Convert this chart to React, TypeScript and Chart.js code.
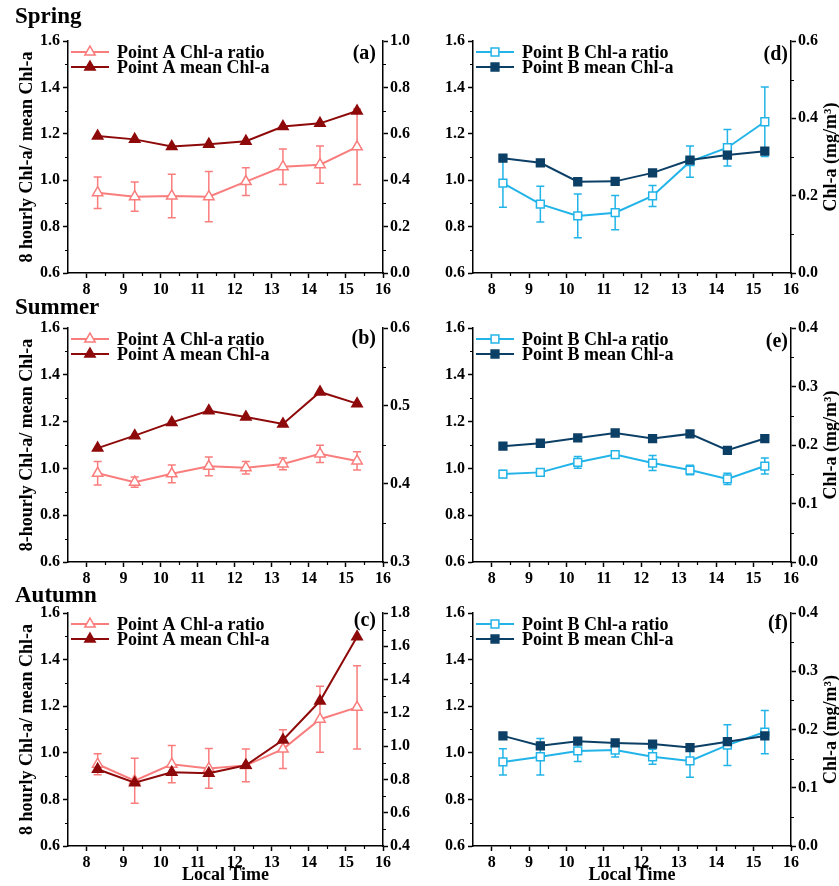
import React, { useEffect, useRef } from 'react';
import { Chart, registerables } from 'chart.js';

Chart.register(...registerables);

const FONT = '"Liberation Serif", "Times New Roman", serif';

// ---- shared axes ----
const TIME = [8.3, 9.3, 10.3, 11.3, 12.3, 13.3, 14.3, 15.3];
const X_TICKS = [8, 9, 10, 11, 12, 13, 14, 15, 16];
const LEFT_TICKS = [0.6, 0.8, 1.0, 1.2, 1.4, 1.6];

// ---- Spring, Point A (a) ----
const SPRING_A_RATIO = [0.946, 0.929, 0.932, 0.929, 0.994, 1.058, 1.067, 1.144];
const SPRING_A_ERR = [0.068, 0.063, 0.094, 0.108, 0.06, 0.076, 0.08, 0.163];
const SPRING_A_MEAN = [0.59, 0.576, 0.545, 0.555, 0.568, 0.631, 0.645, 0.698];
const SPRING_A_RIGHT_TICKS = [0.0, 0.2, 0.4, 0.6, 0.8, 1.0];

// ---- Summer, Point A (b) ----
const SUMMER_A_RATIO = [0.979, 0.941, 0.977, 1.009, 1.003, 1.019, 1.062, 1.032];
const SUMMER_A_ERR = [0.05, 0.022, 0.038, 0.04, 0.027, 0.025, 0.037, 0.039];
const SUMMER_A_MEAN = [0.446, 0.462, 0.479, 0.494, 0.486, 0.477, 0.518, 0.503];
const SUMMER_A_RIGHT_TICKS = [0.3, 0.4, 0.5, 0.6];

// ---- Autumn, Point A (c) ----
const AUTUMN_A_RATIO = [0.951, 0.88, 0.951, 0.933, 0.946, 1.016, 1.144, 1.195];
const AUTUMN_A_ERR = [0.045, 0.097, 0.08, 0.085, 0.07, 0.083, 0.142, 0.179];
const AUTUMN_A_MEAN = [0.861, 0.78, 0.843, 0.837, 0.885, 1.037, 1.271, 1.658];
const AUTUMN_A_RIGHT_TICKS = [0.4, 0.6, 0.8, 1.0, 1.2, 1.4, 1.6, 1.8];

// ---- Spring, Point B (d) ----
const SPRING_B_RATIO = [0.987, 0.897, 0.846, 0.86, 0.932, 1.08, 1.14, 1.252];
const SPRING_B_ERR = [0.104, 0.077, 0.094, 0.074, 0.045, 0.067, 0.079, 0.15];
const SPRING_B_MEAN = [0.297, 0.285, 0.236, 0.237, 0.259, 0.292, 0.305, 0.315];
const SPRING_B_RIGHT_TICKS = [0.0, 0.2, 0.4, 0.6];

// ---- Summer, Point B (e) ----
const SUMMER_B_RATIO = [0.976, 0.983, 1.026, 1.059, 1.023, 0.993, 0.955, 1.01];
const SUMMER_B_ERR = [0.015, 0.015, 0.025, 0.015, 0.032, 0.02, 0.024, 0.034];
const SUMMER_B_MEAN = [0.198, 0.203, 0.212, 0.2205, 0.211, 0.219, 0.191, 0.211];
const SUMMER_B_RIGHT_TICKS = [0.0, 0.1, 0.2, 0.3, 0.4];

// ---- Autumn, Point B (f) ----
const AUTUMN_B_RATIO = [0.961, 0.983, 1.008, 1.012, 0.983, 0.965, 1.033, 1.089];
const AUTUMN_B_ERR = [0.056, 0.078, 0.045, 0.03, 0.032, 0.07, 0.087, 0.093];
const AUTUMN_B_MEAN = [0.189, 0.172, 0.18, 0.177, 0.175, 0.169, 0.179, 0.189];
const AUTUMN_B_RIGHT_TICKS = [0.0, 0.1, 0.2, 0.3, 0.4];

const A_RATIO_COLOR = '#FA7D7D';
const A_MEAN_COLOR = '#8E0A0A';
const B_RATIO_COLOR = '#22B4E8';
const B_MEAN_COLOR = '#0C3F66';

const SEASONS = ['Spring', 'Summer', 'Autumn'];

type PanelCfg = {
  key: string;
  left: number; top: number; width: number; height: number;
  padTop: number; leftW: number; rightW: number; bottomH: number;
  ratio: number[]; err: number[]; mean: number[];
  rightTicks: number[];
  ratioColor: string; meanColor: string; marker: 'triangle' | 'rect';
  ratioLabel: string; meanLabel: string;
  letter: string; letterDx: number; letterDy: number;
  leftTitle?: string; rightTitle?: string; xTitle?: string;
};

const COLS = [
  { left: 0, width: 420, leftW: 68, rightW: 37 },
  { left: 420, width: 419, leftW: 53, rightW: 48 },
];
const ROWS = [
  { top: 0, height: 300, padTop: 41, bottomH: 27 },
  { top: 290, height: 300, padTop: 38, bottomH: 28 },
  { top: 580, height: 306, padTop: 33, bottomH: 40 },
];

const mids = (arr: number[]) => arr.slice(0, -1).map((v, i) => (v + arr[i + 1]) / 2);

function drawMarker(ctx: CanvasRenderingContext2D, kind: string, x: number, y: number, r: number, fill: string, stroke: string) {
  ctx.save();
  ctx.beginPath();
  if (kind === 'triangle') {
    for (let k = 0; k < 3; k++) {
      const a = (k * 2 * Math.PI) / 3;
      const px = x + Math.sin(a) * r;
      const py = y - Math.cos(a) * r;
      if (k === 0) ctx.moveTo(px, py); else ctx.lineTo(px, py);
    }
    ctx.closePath();
  } else {
    const s = r * Math.SQRT1_2;
    ctx.rect(x - s, y - s, 2 * s, 2 * s);
  }
  ctx.fillStyle = fill;
  ctx.fill();
  ctx.lineWidth = 1.5;
  ctx.strokeStyle = stroke;
  ctx.stroke();
  ctx.restore();
}

function makePlugin(cfg: PanelCfg) {
  return {
    id: 'panelDecor' + cfg.key,
    beforeDatasetsDraw(chart: any) {
      const ctx = chart.ctx as CanvasRenderingContext2D;
      const xs = chart.scales.x;
      const ys = chart.scales.y;
      ctx.save();
      ctx.strokeStyle = cfg.ratioColor;
      ctx.lineWidth = 1.5;
      TIME.forEach((t, i) => {
        const px = xs.getPixelForValue(t);
        const hi = ys.getPixelForValue(cfg.ratio[i] + cfg.err[i]);
        const lo = ys.getPixelForValue(cfg.ratio[i] - cfg.err[i]);
        ctx.beginPath();
        ctx.moveTo(px, hi); ctx.lineTo(px, lo);
        ctx.moveTo(px - 4, hi); ctx.lineTo(px + 4, hi);
        ctx.moveTo(px - 4, lo); ctx.lineTo(px + 4, lo);
        ctx.stroke();
      });
      ctx.restore();
    },
    afterDraw(chart: any) {
      const ctx = chart.ctx as CanvasRenderingContext2D;
      const ca = chart.chartArea;
      const xs = chart.scales.x;
      const ys = chart.scales.y;
      const yr = chart.scales.y1;
      ctx.save();
      // minor ticks
      ctx.strokeStyle = '#000';
      ctx.lineWidth = 1.2;
      ctx.beginPath();
      mids(LEFT_TICKS).forEach((v) => {
        const p = Math.round(ys.getPixelForValue(v)) + 0.5;
        ctx.moveTo(ca.left, p); ctx.lineTo(ca.left - 3, p);
      });
      mids(cfg.rightTicks).forEach((v) => {
        const p = Math.round(yr.getPixelForValue(v)) + 0.5;
        ctx.moveTo(ca.right, p); ctx.lineTo(ca.right + 3, p);
      });
      mids(X_TICKS).forEach((v) => {
        const p = Math.round(xs.getPixelForValue(v)) + 0.5;
        ctx.moveTo(p, ca.bottom); ctx.lineTo(p, ca.bottom + 3);
      });
      ctx.stroke();

      // legend
      const items = [
        { label: cfg.ratioLabel, color: cfg.ratioColor, fill: '#ffffff' },
        { label: cfg.meanLabel, color: cfg.meanColor, fill: cfg.meanColor },
      ];
      items.forEach((it, i) => {
        const y = ca.top + 11 + i * 15;
        const x0 = ca.left + 3;
        const x1 = ca.left + 41;
        ctx.strokeStyle = it.color;
        ctx.lineWidth = 2;
        ctx.beginPath();
        ctx.moveTo(x0, y); ctx.lineTo(x1, y);
        ctx.stroke();
        drawMarker(ctx, cfg.marker, (x0 + x1) / 2, y, cfg.marker === 'triangle' ? 6 : 5.5, it.fill, it.color);
        ctx.fillStyle = '#000';
        ctx.font = `bold 18px ${FONT}`;
        ctx.textAlign = 'left';
        ctx.textBaseline = 'middle';
        ctx.fillText(it.label, ca.left + 49, y + 1);
      });

      // panel letter
      ctx.fillStyle = '#000';
      ctx.font = `bold 20px ${FONT}`;
      ctx.textAlign = 'right';
      ctx.textBaseline = 'middle';
      ctx.fillText(cfg.letter, ca.right - cfg.letterDx, ca.top + cfg.letterDy);

      // right-hand title (reads bottom to top)
      if (cfg.rightTitle) {
        ctx.translate(chart.width - 8, (ca.top + ca.bottom) / 2);
        ctx.rotate(-Math.PI / 2);
        ctx.font = `bold 18px ${FONT}`;
        ctx.textAlign = 'center';
        ctx.textBaseline = 'middle';
        ctx.fillText(cfg.rightTitle, 0, 0);
      }
      ctx.restore();
    },
  };
}

function Panel({ cfg }: { cfg: PanelCfg }) {
  const ref = useRef<HTMLCanvasElement>(null);
  useEffect(() => {
    const canvas = ref.current;
    if (!canvas) return;
    const tickFont = { family: FONT, size: 16, weight: 'bold' as const };
    const rMin = cfg.rightTicks[0];
    const rMax = cfg.rightTicks[cfg.rightTicks.length - 1];
    const pts = (vals: number[]) => TIME.map((t, i) => ({ x: t, y: vals[i] }));
    const grid = {
      display: true,
      drawOnChartArea: false,
      drawTicks: true,
      tickLength: 5,
      tickWidth: 1.5,
      color: '#000',
    };
    const border = { display: true, color: '#000', width: 1.5 };
    const r = cfg.marker === 'triangle' ? 6 : 5.5;
    const chart = new Chart(canvas, {
      type: 'line',
      data: {
        datasets: [
          {
            label: cfg.ratioLabel,
            data: pts(cfg.ratio),
            yAxisID: 'y',
            borderColor: cfg.ratioColor,
            backgroundColor: '#ffffff',
            borderWidth: 2,
            pointStyle: cfg.marker,
            pointRadius: r,
            pointBorderWidth: 1.5,
            pointBackgroundColor: '#ffffff',
            pointBorderColor: cfg.ratioColor,
            order: 1,
          },
          {
            label: cfg.meanLabel,
            data: pts(cfg.mean),
            yAxisID: 'y1',
            borderColor: cfg.meanColor,
            backgroundColor: cfg.meanColor,
            borderWidth: 2,
            pointStyle: cfg.marker,
            pointRadius: r,
            pointBorderWidth: 1.5,
            pointBackgroundColor: cfg.meanColor,
            pointBorderColor: cfg.meanColor,
            order: 0,
          },
        ],
      },
      options: {
        animation: false,
        responsive: false,
        devicePixelRatio: 1,
        layout: { padding: { top: cfg.padTop, left: 0, right: 0, bottom: 0 } },
        plugins: {
          legend: { display: false },
          tooltip: { enabled: false },
          title: { display: false },
        },
        scales: {
          x: {
            type: 'linear',
            position: 'bottom',
            min: 7.5,
            max: 16,
            afterBuildTicks: (s: any) => { s.ticks = X_TICKS.map((v) => ({ value: v })); },
            afterFit: (s: any) => { s.height = cfg.bottomH; },
            grid,
            border,
            ticks: {
              font: tickFont,
              color: '#000',
              padding: 2,
              maxRotation: 0,
              autoSkip: false,
              callback: (v: any) => String(v),
            },
            title: cfg.xTitle
              ? { display: true, text: cfg.xTitle, color: '#000', font: { family: FONT, size: 18, weight: 'bold' }, padding: { top: 0, bottom: 0 } }
              : { display: false },
          },
          y: {
            type: 'linear',
            position: 'left',
            min: LEFT_TICKS[0],
            max: LEFT_TICKS[LEFT_TICKS.length - 1],
            afterBuildTicks: (s: any) => { s.ticks = LEFT_TICKS.map((v) => ({ value: v })); },
            afterFit: (s: any) => { s.width = cfg.leftW; },
            grid,
            border,
            ticks: {
              font: tickFont,
              color: '#000',
              padding: 3,
              callback: (v: any) => Number(v).toFixed(1),
            },
            title: cfg.leftTitle
              ? { display: true, text: cfg.leftTitle, color: '#000', font: { family: FONT, size: 18, weight: 'bold' }, padding: { top: 17, bottom: 0 } }
              : { display: false },
          },
          y1: {
            type: 'linear',
            position: 'right',
            min: rMin,
            max: rMax,
            afterBuildTicks: (s: any) => { s.ticks = cfg.rightTicks.map((v) => ({ value: v })); },
            afterFit: (s: any) => { s.width = cfg.rightW; },
            grid,
            border,
            ticks: {
              font: tickFont,
              color: '#000',
              padding: 2,
              callback: (v: any) => Number(v).toFixed(1),
            },
          },
        },
      } as any,
      plugins: [makePlugin(cfg)],
    });
    return () => chart.destroy();
  }, [cfg]);
  return (
    <canvas
      ref={ref}
      width={cfg.width}
      height={cfg.height}
      style={{ position: 'absolute', left: cfg.left, top: cfg.top, width: cfg.width, height: cfg.height }}
    />
  );
}

function build(
  key: string, col: number, row: number,
  ratio: number[], err: number[], mean: number[], rightTicks: number[],
  letter: string, letterDy: number, leftTitle?: string
): PanelCfg {
  const c = COLS[col];
  const r = ROWS[row];
  const isA = col === 0;
  return {
    key,
    left: c.left, width: c.width, leftW: c.leftW, rightW: c.rightW,
    top: r.top, height: r.height, padTop: r.padTop, bottomH: r.bottomH,
    ratio, err, mean, rightTicks,
    ratioColor: isA ? A_RATIO_COLOR : B_RATIO_COLOR,
    meanColor: isA ? A_MEAN_COLOR : B_MEAN_COLOR,
    marker: isA ? 'triangle' : 'rect',
    ratioLabel: isA ? 'Point A Chl-a ratio' : 'Point B Chl-a ratio',
    meanLabel: isA ? 'Point A mean Chl-a' : 'Point B mean Chl-a',
    letter,
    letterDx: isA ? 7 : 3,
    letterDy,
    leftTitle,
    rightTitle: isA ? undefined : 'Chl-a (mg/m³)',
    xTitle: row === 2 ? 'Local Time' : undefined,
  };
}

const PANELS: PanelCfg[] = [
  build('a', 0, 0, SPRING_A_RATIO, SPRING_A_ERR, SPRING_A_MEAN, SPRING_A_RIGHT_TICKS, '(a)', 13, '8 hourly Chl-a/ mean Chl-a'),
  build('b', 0, 1, SUMMER_A_RATIO, SUMMER_A_ERR, SUMMER_A_MEAN, SUMMER_A_RIGHT_TICKS, '(b)', 11, '8-hourly Chl-a/ mean Chl-a'),
  build('c', 0, 2, AUTUMN_A_RATIO, AUTUMN_A_ERR, AUTUMN_A_MEAN, AUTUMN_A_RIGHT_TICKS, '(c)', 8, '8 hourly Chl-a/ mean Chl-a'),
  build('d', 1, 0, SPRING_B_RATIO, SPRING_B_ERR, SPRING_B_MEAN, SPRING_B_RIGHT_TICKS, '(d)', 14),
  build('e', 1, 1, SUMMER_B_RATIO, SUMMER_B_ERR, SUMMER_B_MEAN, SUMMER_B_RIGHT_TICKS, '(e)', 14),
  build('f', 1, 2, AUTUMN_B_RATIO, AUTUMN_B_ERR, AUTUMN_B_MEAN, AUTUMN_B_RIGHT_TICKS, '(f)', 11),
];

const SEASON_TOPS = [4, 295, 583];

export default function App() {
  return (
    <div style={{ position: 'absolute', left: 0, top: 0, width: 839, height: 886, background: '#fff', overflow: 'hidden' }}>
      {PANELS.map((p) => (
        <Panel key={p.key} cfg={p} />
      ))}
      {SEASONS.map((s, i) => (
        <div
          key={s}
          style={{
            position: 'absolute',
            left: 15,
            top: SEASON_TOPS[i],
            font: `bold 23px ${FONT}`,
            lineHeight: '23px',
            color: '#000',
            whiteSpace: 'nowrap',
          }}
        >
          {s}
        </div>
      ))}
    </div>
  );
}
